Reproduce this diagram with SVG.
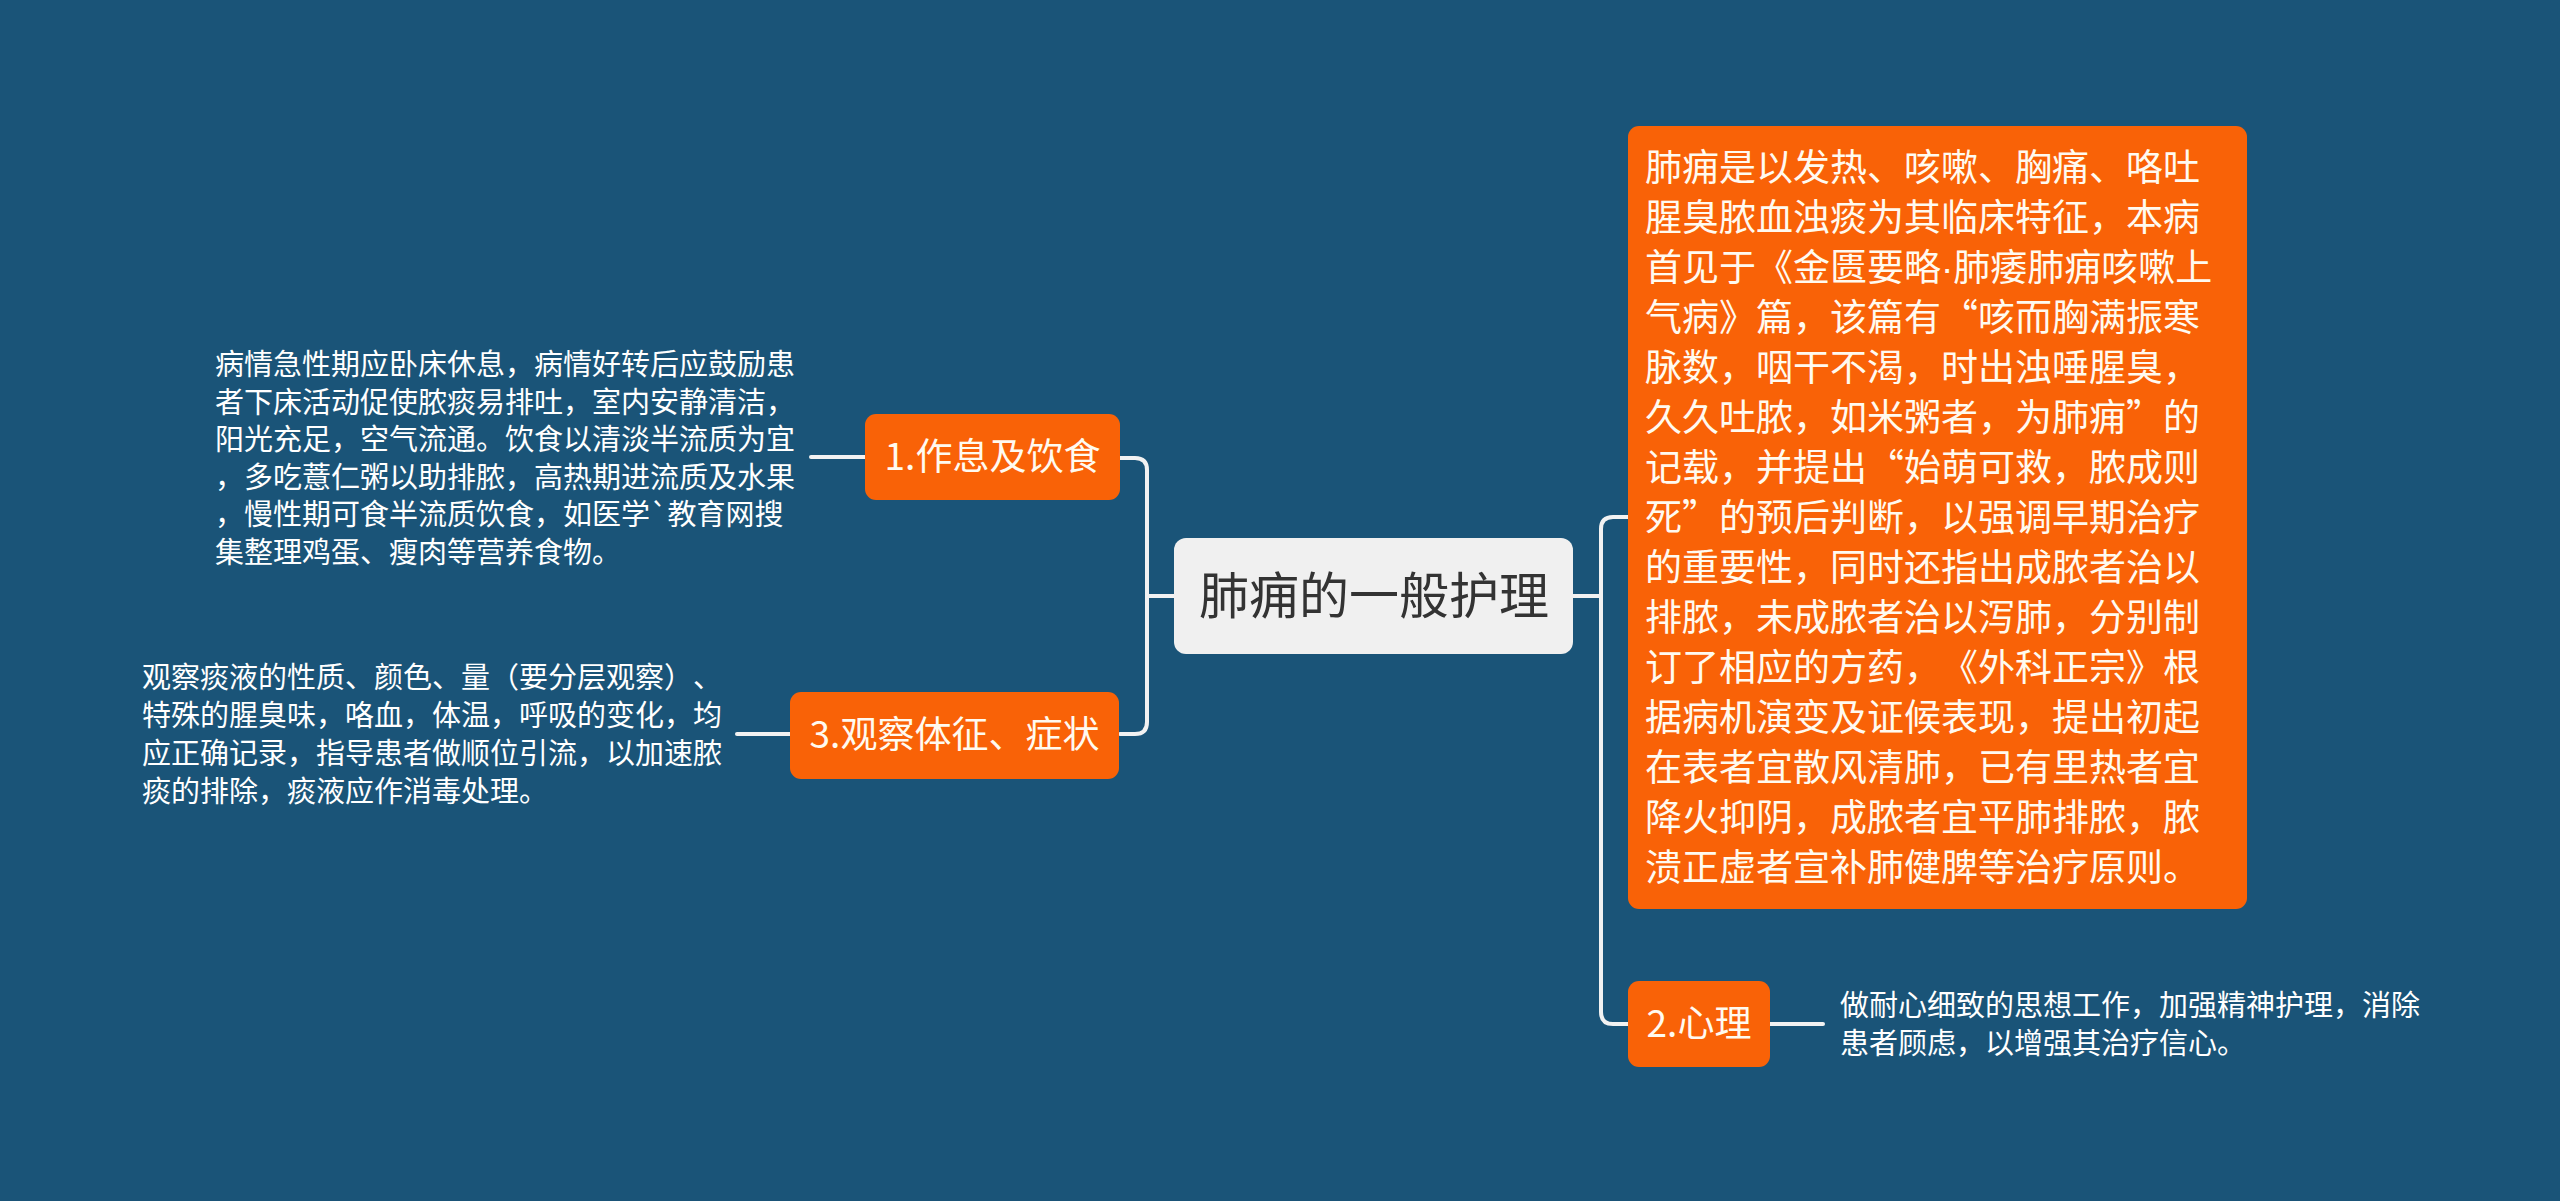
<svg xmlns="http://www.w3.org/2000/svg" width="2560" height="1201" viewBox="0 0 2560 1201">
<style>
.bg{fill:#1a5478}
.root{fill:#f0f0f0}
.org{fill:#f96207}
.t{font-family:"Noto Sans CJK SC","Noto Sans",sans-serif;text-spacing-trim:space-all}
.rt{font-size:50px;fill:#333333;text-anchor:middle}
.lb{font-size:37px;fill:#fffaf0;text-anchor:middle}
.bt{font-size:37px;fill:#fffaf0}
.dt{font-size:29px;fill:#ffffff}
.dot{font-family:"Liberation Sans",sans-serif}
.ln{fill:none;stroke:#f2f2f2;stroke-width:4;stroke-linecap:round}
</style>
<rect class="bg" x="0" y="0" width="2560" height="1201"/>
<g id="connectors">
<path class="ln" d="M1174,596 H1147 M1120,458 H1135 Q1147,458 1147,470 V722 Q1147,734 1135,734 H1120"/>
<path class="ln" d="M1573,596 H1601 M1628,517 H1613 Q1601,517 1601,529 V1012 Q1601,1024 1613,1024 H1628"/>
<path class="ln" d="M865,457 H811"/>
<path class="ln" d="M790,734 H737"/>
<path class="ln" d="M1770,1024 H1823"/>
</g>
<g id="root">
<rect class="root" x="1174" y="538" width="399" height="116" rx="12"/>
<text class="t rt" x="1374" y="614">肺痈的一般护理</text>
</g>
<g id="n1">
<rect class="org" x="865" y="414" width="255" height="86" rx="11"/>
<text class="t lb" x="992.5" y="470">1.作息及饮食</text>
</g>
<g id="n1desc">
<text class="t dt" x="215" y="375">病情急性期应卧床休息，病情好转后应鼓励患</text>
<text class="t dt" x="215" y="413">者下床活动促使脓痰易排吐，室内安静清洁，</text>
<text class="t dt" x="215" y="450">阳光充足，空气流通。饮食以清淡半流质为宜</text>
<text class="t dt" x="215" y="488">，多吃薏仁粥以助排脓，高热期进流质及水果</text>
<text class="t dt" x="215" y="525">，慢性期可食半流质饮食，如医学`教育网搜</text>
<text class="t dt" x="215" y="563">集整理鸡蛋、瘦肉等营养食物。</text>
</g>
<g id="n3">
<rect class="org" x="790" y="692" width="329" height="87" rx="11"/>
<text class="t lb" x="954.5" y="748">3.观察体征、症状</text>
</g>
<g id="n3desc">
<text class="t dt" x="142" y="688">观察痰液的性质、颜色、量（要分层观察）、</text>
<text class="t dt" x="142" y="726">特殊的腥臭味，咯血，体温，呼吸的变化，均</text>
<text class="t dt" x="142" y="764">应正确记录，指导患者做顺位引流，以加速脓</text>
<text class="t dt" x="142" y="802">痰的排除，痰液应作消毒处理。</text>
</g>
<g id="bigbox">
<rect class="org" x="1628" y="126" width="619" height="783" rx="11"/>
<text class="t bt" x="1645" y="181">肺痈是以发热、咳嗽、胸痛、咯吐</text>
<text class="t bt" x="1645" y="231">腥臭脓血浊痰为其临床特征，本病</text>
<text class="t bt" x="1645" y="281">首见于《金匮要略<tspan class="dot">·</tspan>肺痿肺痈咳嗽上</text>
<text class="t bt" x="1645" y="331">气病》篇，该篇有“咳而胸满振寒</text>
<text class="t bt" x="1645" y="381">脉数，咽干不渴，时出浊唾腥臭，</text>
<text class="t bt" x="1645" y="431">久久吐脓，如米粥者，为肺痈”的</text>
<text class="t bt" x="1645" y="481">记载，并提出“始萌可救，脓成则</text>
<text class="t bt" x="1645" y="531">死”的预后判断，以强调早期治疗</text>
<text class="t bt" x="1645" y="581">的重要性，同时还指出成脓者治以</text>
<text class="t bt" x="1645" y="631">排脓，未成脓者治以泻肺，分别制</text>
<text class="t bt" x="1645" y="681">订了相应的方药，《外科正宗》根</text>
<text class="t bt" x="1645" y="731">据病机演变及证候表现，提出初起</text>
<text class="t bt" x="1645" y="781">在表者宜散风清肺，已有里热者宜</text>
<text class="t bt" x="1645" y="831">降火抑阴，成脓者宜平肺排脓，脓</text>
<text class="t bt" x="1645" y="881">溃正虚者宣补肺健脾等治疗原则。</text>
</g>
<g id="n2">
<rect class="org" x="1628" y="981" width="142" height="86" rx="11"/>
<text class="t lb" x="1699" y="1037">2.心理</text>
</g>
<g id="n2desc">
<text class="t dt" x="1840" y="1016">做耐心细致的思想工作，加强精神护理，消除</text>
<text class="t dt" x="1840" y="1054">患者顾虑，以增强其治疗信心。</text>
</g>
</svg>
